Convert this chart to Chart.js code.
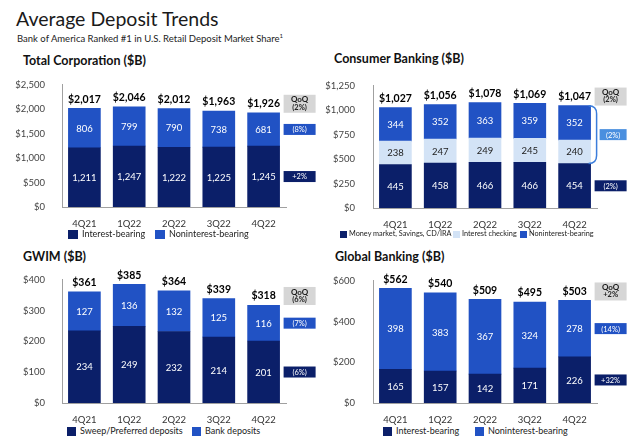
<!DOCTYPE html>
<html><head><meta charset="utf-8">
<script src="https://cdn.jsdelivr.net/npm/chart.js@4.4.1/dist/chart.umd.min.js"></script>
<style>
body{margin:0;width:640px;height:439px;position:relative;background:#fff;font-family:Lato,'Open Sans',sans-serif;overflow:hidden;color:#1a1a1a}
.abs{position:absolute;white-space:nowrap}
#title{left:16px;top:6px;font-size:19.5px;line-height:26px;color:#1a1a1a}
#sub{left:17px;top:33px;font-size:9.5px;line-height:12px;color:#222}
#sub sup{font-size:6px;vertical-align:top;line-height:6px}
.ptitle{font-size:12.5px;font-weight:bold;line-height:16px;color:#111}
.lg{color:#222}
.lg span{position:absolute;display:flex;align-items:center;top:0;white-space:nowrap}
.lg i{display:inline-block}
canvas{position:absolute}
</style></head>
<body>
<div id="title" class="abs">Average Deposit Trends</div>
<div id="sub" class="abs">Bank of America Ranked #1 in U.S. Retail Deposit Market Share<sup>1</sup></div>

<div class="abs ptitle" style="left:23px;top:53px">Total Corporation ($B)</div>
<div class="abs ptitle" style="left:334px;top:51px">Consumer Banking ($B)</div>
<div class="abs ptitle" style="left:23px;top:249px">GWIM ($B)</div>
<div class="abs ptitle" style="left:335px;top:249px">Global Banking ($B)</div>

<canvas id="c1" width="320" height="160" style="left:0;top:70px"></canvas>
<canvas id="c2" width="320" height="160" style="left:320px;top:70px"></canvas>
<canvas id="c3" width="320" height="160" style="left:0;top:265px"></canvas>
<canvas id="c4" width="320" height="160" style="left:320px;top:265px"></canvas>

<div id="lg1" class="abs lg" style="left:0;top:228px;font-size:9px;line-height:12px"></div>
<div id="lg2" class="abs lg" style="left:0;top:229px;font-size:7.3px;line-height:10px"></div>
<div id="lg3" class="abs lg" style="left:0;top:425px;font-size:9px;line-height:12px"></div>
<div id="lg4" class="abs lg" style="left:0;top:425px;font-size:9px;line-height:12px"></div>

<script>
// ---------- DATA ----------
const categories = ['4Q21','1Q22','2Q22','3Q22','4Q22'];

const tcInterest    = [1211,1247,1222,1225,1245];
const tcNoninterest = [806,799,790,738,681];
const tcTotals      = [2017,2046,2012,1963,1926];
const tcQoQ         = ['(2%)','(8%)','+2%'];

const cbMoneyMarket = [445,458,466,466,454];
const cbChecking    = [238,247,249,245,240];
const cbNoninterest = [344,352,363,359,352];
const cbTotals      = [1027,1056,1078,1069,1047];
const cbQoQ         = ['(2%)','(2%)','(2%)'];

const gwSweep       = [234,249,232,214,201];
const gwBank        = [127,136,132,125,116];
const gwTotals      = [361,385,364,339,318];
const gwQoQ         = ['(6%)','(7%)','(6%)'];

const gbInterest    = [165,157,142,171,226];
const gbNoninterest = [398,383,367,324,278];
const gbTotals      = [562,540,509,495,503];
const gbQoQ         = ['+2%','(14%)','+32%'];

const yTicks1 = {max:2500, step:500};
const yTicks2 = {max:1250, step:250};
const yTicks3 = {max:400, step:100};
const yTicks4 = {max:600, step:200};

// ---------- STYLE ----------
const FONT = "Lato, 'Open Sans', sans-serif";
const NAVY = '#0b1f69';
const BLUE = '#2152c4';
const LIGHT = '#d3e3f6';
const MID = '#4a8fdf';
const GRAY = '#d6d6d6';

const valueLabels = {
  id:'valueLabels',
  afterDatasetsDraw(chart, args, o){
    const ctx = chart.ctx; ctx.save();
    ctx.textAlign='center'; ctx.textBaseline='middle';
    chart.data.datasets.forEach((ds,i)=>{
      const meta = chart.getDatasetMeta(i);
      ctx.fillStyle = ds.textColor || '#fff';
      ctx.font = `9.5px ${FONT}`;
      meta.data.forEach((el,j)=>{
        ctx.fillText(ds.data[j].toLocaleString('en-US'), el.x, (el.y+el.base)/2+0.5);
      });
    });
    const y = chart.scales.y, m0 = chart.getDatasetMeta(0);
    ctx.fillStyle='#000'; ctx.font=`bold 10.5px ${FONT}`;
    o.totals.forEach((t,j)=>{
      ctx.fillText('$'+t.toLocaleString('en-US'), m0.data[j].x, y.getPixelForValue(t)-9);
    });
    ctx.restore();
  }
};

const qoqPlugin = {
  id:'qoq',
  afterDraw(chart, args, o){
    const ctx = chart.ctx, y = chart.scales.y;
    const n = chart.data.labels.length-1;
    const bar = chart.getDatasetMeta(0).data[n];
    const bx = bar.x + bar.width/2;
    const x0 = bx + 4, w = 32;
    ctx.save();
    ctx.textAlign='center'; ctx.textBaseline='middle';
    const yTop = y.getPixelForValue(o.total);
    ctx.fillStyle = GRAY; ctx.fillRect(x0, yTop-18, w, 18);
    ctx.fillStyle = '#1a1a1a'; ctx.font = `bold 8px ${FONT}`;
    ctx.fillText('QoQ', x0+w/2, yTop-13);
    ctx.font = `bold 7.5px ${FONT}`;
    ctx.fillText(o.labels[0], x0+w/2, yTop-5.5);
    o.segments.forEach((s,k)=>{
      let lower = 0;
      for(let i=0;i<Math.min(...s.sets);i++) lower += chart.data.datasets[i].data[n];
      let upper = lower;
      s.sets.forEach(i=>upper += chart.data.datasets[i].data[n]);
      const yc = y.getPixelForValue((lower+upper)/2);
      let bxl = x0, bw = w;
      if(s.bracket){
        const yu = y.getPixelForValue(upper), yl = y.getPixelForValue(lower);
        ctx.strokeStyle = '#3b7ddb'; ctx.lineWidth = 1.5;
        ctx.beginPath();
        ctx.moveTo(bx-2, yu);
        ctx.quadraticCurveTo(bx+6, yu, bx+6, yu+8);
        ctx.lineTo(bx+6, yl-8);
        ctx.quadraticCurveTo(bx+6, yl, bx-2, yl);
        ctx.stroke();
        bxl = x0+5; bw = w-5;
      }
      ctx.fillStyle = s.color; ctx.fillRect(bxl, yc-5.5, bw, 11);
      ctx.fillStyle = '#fff'; ctx.font = `7.5px ${FONT}`;
      ctx.fillText(o.labels[k+1], bxl+bw/2, yc+0.5);
    });
    ctx.restore();
  }
};
Chart.register(valueLabels, qoqPlugin);

function money(v){ return '$' + Number(v).toLocaleString('en-US'); }

function makeChart(id, datasets, totals, qoq, segments, ticks, geo){
  return new Chart(document.getElementById(id), {
    type:'bar',
    data:{labels:categories, datasets},
    options:{
      responsive:false, animation:false,
      layout:{padding:{top:geo.top, right:geo.right, bottom:0, left:0}},
      datasets:{bar:{barThickness:32, borderWidth:0}},
      plugins:{
        legend:{display:false}, tooltip:{enabled:false},
        valueLabels:{totals},
        qoq:{total:totals[totals.length-1], labels:qoq, segments}
      },
      scales:{
        x:{stacked:true, grid:{display:false}, border:{color:'#a0a0a0', width:1},
           ticks:{color:'#333', font:{size:9.5, family:FONT}, padding:3},
           afterFit(s){ s.height = geo.xh; }},
        y:{stacked:true, min:0, max:ticks.max, grid:{display:false}, border:{color:'#a0a0a0', width:1},
           ticks:{stepSize:ticks.step, color:'#444', font:{size:9.5, family:FONT}, padding:geo.tp, callback:money},
           afterFit(s){ s.width = geo.yw; }}
      }
    }
  });
}

function legend(id, datasets, box, xs){
  const el = document.getElementById(id);
  datasets.forEach((d,i)=>{
    const s = document.createElement('span');
    s.style.left = xs[i]+'px';
    const b = document.createElement('i');
    b.style.width = box.w+'px'; b.style.height = box.h+'px'; b.style.background = d.backgroundColor;
    b.style.marginRight = box.tg+'px';
    s.appendChild(b); s.appendChild(document.createTextNode(d.label));
    el.appendChild(s);
  });
}

const ds1 = [
  {label:'Interest-bearing', data:tcInterest, backgroundColor:NAVY},
  {label:'Noninterest-bearing', data:tcNoninterest, backgroundColor:BLUE}
];
const ds2 = [
  {label:'Money market, Savings, CD/IRA', data:cbMoneyMarket, backgroundColor:NAVY},
  {label:'Interest checking', data:cbChecking, backgroundColor:LIGHT, textColor:'#222'},
  {label:'Noninterest-bearing', data:cbNoninterest, backgroundColor:BLUE}
];
const ds3 = [
  {label:'Sweep/Preferred deposits', data:gwSweep, backgroundColor:NAVY},
  {label:'Bank deposits', data:gwBank, backgroundColor:BLUE}
];
const ds4 = [
  {label:'Interest-bearing', data:gbInterest, backgroundColor:NAVY},
  {label:'Noninterest-bearing', data:gbNoninterest, backgroundColor:BLUE}
];

makeChart('c1', ds1, tcTotals, tcQoQ,
  [{sets:[1], color:BLUE},{sets:[0], color:NAVY}], yTicks1,
  {top:14, right:34, xh:23, yw:62, tp:9});
makeChart('c2', ds2, cbTotals, cbQoQ,
  [{sets:[1,2], color:MID, bracket:true},{sets:[0], color:NAVY}], yTicks2,
  {top:13, right:43, xh:22, yw:53, tp:10});
makeChart('c3', ds3, gwTotals, gwQoQ,
  [{sets:[1], color:BLUE},{sets:[0], color:NAVY}], yTicks3,
  {top:14, right:34, xh:22, yw:62, tp:9});
makeChart('c4', ds4, gbTotals, gbQoQ,
  [{sets:[1], color:BLUE},{sets:[0], color:NAVY}], yTicks4,
  {top:14, right:43, xh:22, yw:53, tp:10});

legend('lg1', ds1, {w:10, h:9, tg:4}, [68,155]);
legend('lg2', ds2, {w:7, h:7, tg:2}, [340,453,520]);
legend('lg3', ds3, {w:9, h:9, tg:4}, [67,192]);
legend('lg4', ds4, {w:9, h:9, tg:4}, [383,475]);
</script>
</body></html>
